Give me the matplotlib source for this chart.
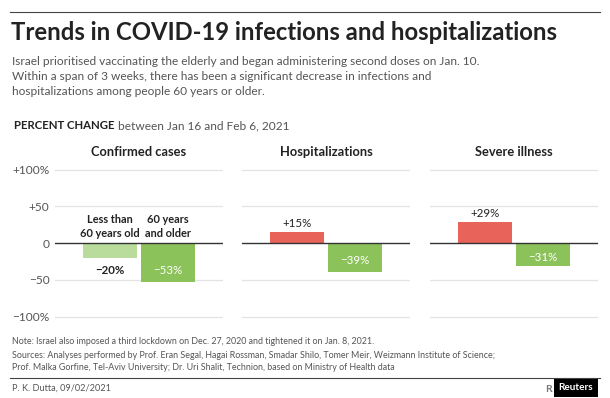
import matplotlib.pyplot as plt
from matplotlib.lines import Line2D

plt.rcParams['font.family'] = ['Lato', 'DejaVu Sans']

# data
panels = ["Confirmed cases", "Hospitalizations", "Severe illness"]
groups = ["Less than\n60 years old", "60 years\nand older"]
values = [[-20, -53], [15, -39], [29, -31]]
yticks = [100, 50, 0, -50, -100]
ytick_labels = ["+100%", "+50", "0", "\u221250", "\u2212100%"]

RED = "#e8635a"
GREEN = "#8cc25a"
LIGHT_GREEN = "#b9db9c"
DARK = "#222222"
GREY = "#555555"

W, H = 610, 398
fig = plt.figure(figsize=(W / 100, H / 100), dpi=100)


def px(x, y):
    return x / W, 1 - y / H


def fmt(v):
    return f"+{v}%" if v > 0 else f"\u2212{abs(v)}%"


# header
fig.add_artist(Line2D([10 / W, 600 / W], [1 - 12 / H] * 2, color="#444444", lw=0.8))
fig.text(*px(11, 33), "Trends in COVID-19 infections and hospitalizations",
         fontsize=17.2, fontweight="bold", color=DARK, va="center")
sub = ("Israel prioritised vaccinating the elderly and began administering second doses on Jan. 10.\n"
       "Within a span of 3 weeks, there has been a significant decrease in infections and\n"
       "hospitalizations among people 60 years or older.")
fig.text(*px(12, 56), sub, fontsize=8.6, color=GREY, va="top", linespacing=1.45)
pc = fig.text(*px(14, 126), "PERCENT CHANGE", fontsize=8.2, fontweight="bold", color=DARK, va="center")
fig.canvas.draw()
pc_right = pc.get_window_extent().x1
fig.text(pc_right / W + 4 / W, 1 - 126 / H, "between Jan 16 and Feb 6, 2021",
         fontsize=8.6, color=GREY, va="center")

# panels
lefts = [55, 242, 430]
pw = 168
top, bottom = 160, 325
zero_px, per = 243, 0.735
ylo, yhi = -(bottom - zero_px) / per, (zero_px - top) / per
half = (pw / 2) / 58

for i, (name, vals) in enumerate(zip(panels, values)):
    ax = fig.add_axes([lefts[i] / W, 1 - bottom / H, pw / W, (bottom - top) / H])
    ax.set_xlim(-half, half)
    ax.set_ylim(ylo, yhi)
    for t in yticks:
        if t != 0:
            ax.axhline(t, color="#e3e3e3", lw=0.9, zorder=0)
    xs = [-0.5, 0.5]
    for j, (x, v) in enumerate(zip(xs, vals)):
        if i == 0:
            c = LIGHT_GREEN if j == 0 else GREEN
        else:
            c = RED if v > 0 else GREEN
        ax.bar(x, v, width=0.93, color=c, zorder=2)
        if v > 0:
            ax.text(x, v + 4, fmt(v), ha="center", va="bottom", fontsize=8.3, color=DARK)
        elif i == 0 and j == 0:
            ax.text(x, -37, fmt(v), ha="center", va="center", fontsize=8.3,
                    color=DARK, fontweight="bold")
        else:
            ax.text(x, -37 if i == 0 else v / 2 - 4, fmt(v), ha="center", va="center",
                    fontsize=8.3, color="white")
    if i == 0:
        for x, g in zip(xs, groups):
            ax.text(x, 6, g, ha="center", va="bottom", fontsize=7.9,
                    fontweight="bold", color=DARK, linespacing=1.3)
    ax.axhline(0, color="#333333", lw=1.0, zorder=3)
    ax.text(0.5, 1 - (152 - top) / (bottom - top), name, transform=ax.transAxes,
            ha="center", va="center", fontsize=9.3, fontweight="bold", color=DARK)
    for s in ax.spines.values():
        s.set_visible(False)
    ax.set_xticks([])
    if i == 0:
        ax.set_yticks(yticks)
        ax.set_yticklabels(ytick_labels, fontsize=8.6, color=GREY)
        ax.tick_params(axis="y", length=0, pad=4)
    else:
        ax.set_yticks([])

# footer
fig.text(*px(12, 341), "Note: Israel also imposed a third lockdown on Dec. 27, 2020 and tightened it on Jan. 8, 2021.",
         fontsize=6.4, color=GREY, va="center")
src = ("Sources: Analyses performed by Prof. Eran Segal, Hagai Rossman, Smadar Shilo, Tomer Meir, Weizmann Institute of Science;\n"
       "Prof. Malka Gorfine, Tel-Aviv University; Dr. Uri Shalit, Technion, based on Ministry of Health data")
fig.text(*px(12, 351), src, fontsize=6.4, color=GREY, va="top", linespacing=1.45)
fig.add_artist(Line2D([10 / W, 600 / W], [1 - 378 / H] * 2, color="#444444", lw=0.8))
fig.text(*px(12, 388), "P. K. Dutta, 09/02/2021", fontsize=6.6, color=GREY, va="center")
fig.text(*px(545, 389), "R", fontsize=7.5, color="#777777", va="center", fontweight="bold")
fig.text(*px(576, 388), "Reuters", fontsize=7.2, color="white", va="center", ha="center",
         fontweight="bold",
         bbox=dict(boxstyle="square,pad=0.45", fc="black", ec="none"))

fig.savefig("out.png", dpi=100, facecolor="white")
